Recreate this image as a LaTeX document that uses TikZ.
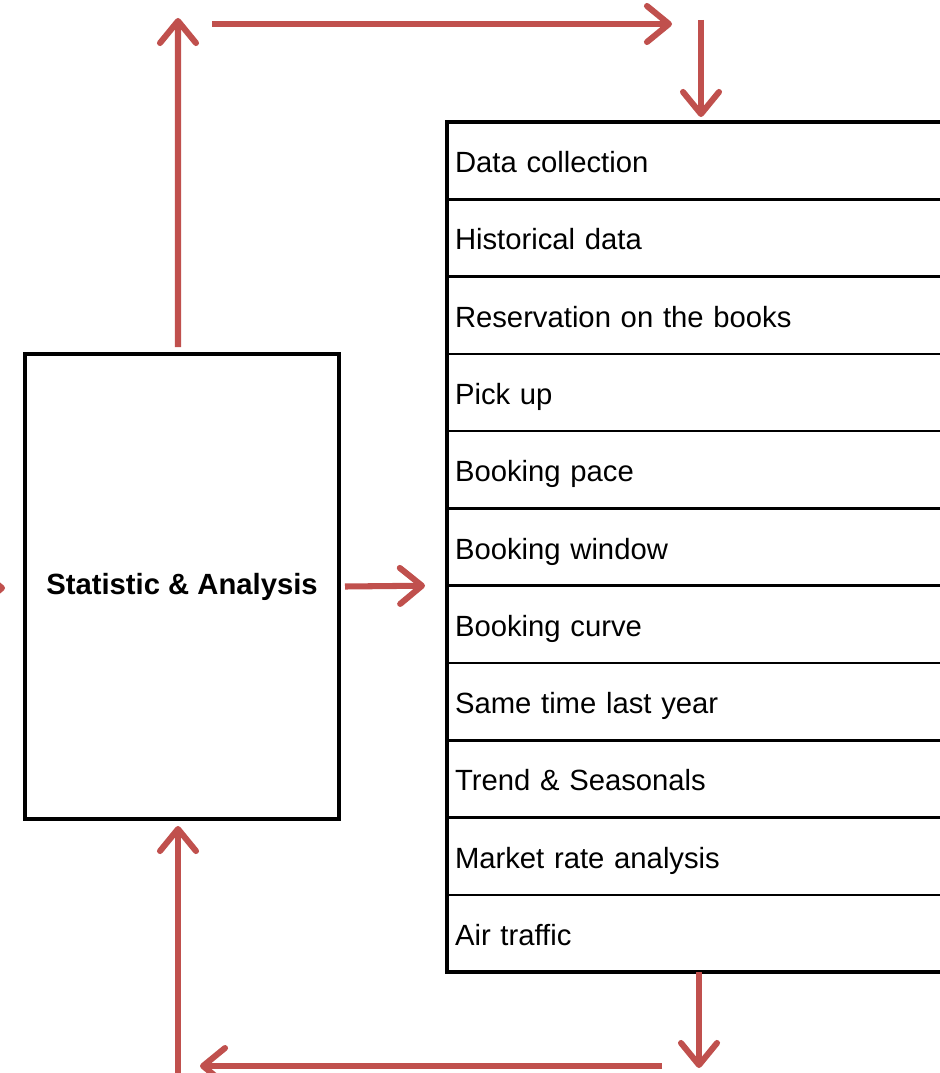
\documentclass[tikz,border=0pt]{standalone}
\usepackage{fontspec}
\setmainfont{Liberation Sans}
\usepackage{tikz}
\usetikzlibrary{arrows.meta,positioning}
\definecolor{flowred}{HTML}{C0504D}

\begin{document}
\begin{tikzpicture}[node distance=0pt,
  rowbox/.style={draw,line width=1.8pt,outer sep=0pt,minimum width=13cm,minimum height=1.932cm,
                 text width=12.6cm,text height=0.65cm,text depth=0.05cm,inner sep=0.2cm,align=left,
                 font=\fontsize{20.8}{25}\selectfont},
  statbox/.style={draw,line width=3.2pt,outer sep=0pt,minimum width=7.85cm,minimum height=11.625cm,
                 font=\fontsize{20.8}{25}\selectfont\bfseries},
  flow/.style={draw=flowred,line width=4.3pt,-{Straight Barb[length=0.55cm,width=0.9cm,round]}}]
\useasboundingbox (0,0) rectangle (23.475,-26.825);

% the list of inputs
\node[rowbox,anchor=north west] (r1) at (11.175,-3.05) {Data collection};
\node[rowbox] (r2)  [below=of r1]  {Historical data};
\node[rowbox] (r3)  [below=of r2]  {Reservation on the books};
\node[rowbox] (r4)  [below=of r3]  {Pick up};
\node[rowbox] (r5)  [below=of r4]  {Booking pace};
\node[rowbox] (r6)  [below=of r5]  {Booking window};
\node[rowbox] (r7)  [below=of r6]  {Booking curve};
\node[rowbox] (r8)  [below=of r7]  {Same time last year};
\node[rowbox] (r9)  [below=of r8]  {Trend \& Seasonals};
\node[rowbox] (r10) [below=of r9]  {Market rate analysis};
\node[rowbox] (r11) [below=of r10] {Air traffic};
\draw[line width=3.2pt] (r1.north east) -- (r1.north west) -- (r11.south west) -- (r11.south east);

% the analysis box
\node[statbox] (stat) at (4.55,-14.6625) {Statistic \& Analysis};

% loop round
\coordinate (upTip)    at (4.45,-0.45);
\coordinate (topL)     at (5.3,-0.6);
\coordinate (topR)     at (16.8,-0.6);
\coordinate (downTop)  at (17.525,-0.5);
\coordinate (downTip)  at (17.525,-2.925);
\coordinate (outTip)   at (17.475,-26.7);
\coordinate (botR)     at (16.55,-26.65);
\coordinate (botL)     at (5.0,-26.65);
\coordinate (botStart) at (4.45,-27.3);
\coordinate (inTip)    at (4.45,-20.65);
\coordinate (leftStart) at (-2,-14.7);
\coordinate (leftTip)  at (0.125,-14.7);

\path[flow]
  ([xshift=-0.1cm,yshift=0.175cm]stat.north) edge (upTip)
  (topL) edge (topR)
  (downTop) edge (downTip)
  ([xshift=0.15cm]stat.east) edge ([xshift=-0.55cm]r7.north west)
  (r11.south -| outTip) edge (outTip)
  (botR) edge (botL)
  (botStart) edge (inTip)
  (leftStart) edge (leftTip);
\end{tikzpicture}
\end{document}
